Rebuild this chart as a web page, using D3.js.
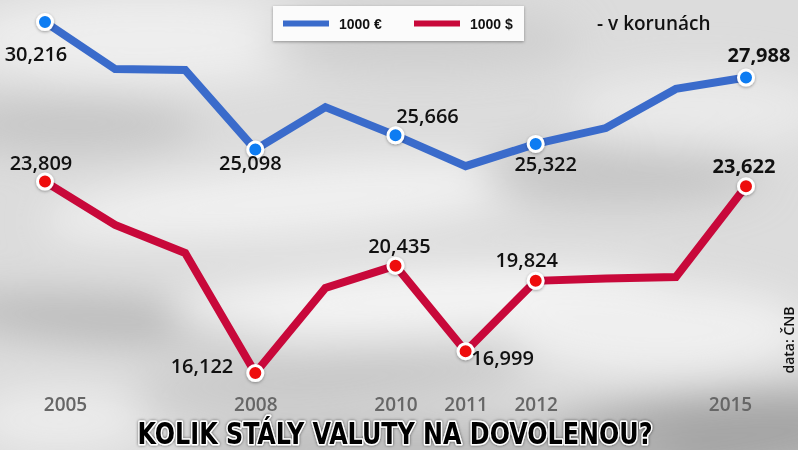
<!DOCTYPE html>
<html>
<head>
<meta charset="utf-8">
<script src="https://cdn.jsdelivr.net/npm/d3@7"></script>
<style>
  html, body { margin: 0; padding: 0; background: #ddd; }
  svg { display: block; }
</style>
</head>
<body>
<svg id="chart" width="798" height="450"></svg>
<script>
// ---- data ----
const years = [2005, 2006, 2007, 2008, 2009, 2010, 2011, 2012, 2013, 2014, 2015];
const eurValues = [30.216, 28.33, 28.29, 25.098, 26.80, 25.666, 24.43, 25.322, 25.96, 27.53, 27.988];
const usdValues = [23.809, 22.07, 20.94, 16.122, 19.54, 20.435, 16.999, 19.824, 19.92, 19.98, 23.622];
const eurMarkedYears = [2005, 2008, 2010, 2012, 2015];
const usdMarkedYears = [2005, 2008, 2010, 2011, 2012, 2015];
const tickYears = [2005, 2008, 2010, 2011, 2012, 2015];
const legendLabels = ["1000 €", "1000 $"];
const unitNote = "- v korunách";
const sourceNote = "data: ČNB";
const titleText = "KOLIK STÁLY VALUTY NA DOVOLENOU?";

// ---- layout / style (kept separate from data) ----
const W = 798, H = 450;
const colors = { eurLine: "#3a6bcb", eurDot: "#0b7bf2", usdLine: "#c8083a", usdDot: "#ee0d0d" };
// label offsets relative to each marked point: [dx, dy, anchor]
const labelLayout = {
  eur: { 2005: [-9, 39, "middle"], 2008: [-5, 21, "middle"], 2010: [32, -12, "middle"], 2012: [10, 27, "middle"], 2015: [13, -16, "middle"] },
  usd: { 2005: [-4, -12, "middle"], 2008: [-22, 0, "end"], 2010: [4, -13, "middle"], 2011: [37, 14, "middle"], 2012: [-9, -14, "middle"], 2015: [-2, -13, "middle"] }
};
const tickNudge = { 2005: 20, 2015: -16 };

const svg = d3.select("#chart");
const defs = svg.append("defs");

// background blur
defs.append("filter").attr("id", "blur").attr("x", "-50%").attr("y", "-50%").attr("width", "200%").attr("height", "200%")
  .append("feGaussianBlur").attr("stdDeviation", 20);
const sh = defs.append("filter").attr("id", "shadow").attr("x", "-50%").attr("y", "-50%").attr("width", "200%").attr("height", "200%");
sh.append("feDropShadow").attr("dx", 0).attr("dy", 1).attr("stdDeviation", 1.5).attr("flood-color", "#000").attr("flood-opacity", 0.35);
const tsh = defs.append("filter").attr("id", "tshadow").attr("x", "-10%").attr("y", "-50%").attr("width", "120%").attr("height", "200%");
tsh.append("feDropShadow").attr("dx", 0).attr("dy", 0).attr("stdDeviation", 1.5).attr("flood-color", "#000").attr("flood-opacity", 0.6);

const bg = svg.append("g");
bg.append("rect").attr("width", W).attr("height", H).attr("fill", "#dcdcdc");
const blobs = bg.append("g").attr("filter", "url(#blur)");
[
  [150, 40, 190, 45, "#eeeeee", 0],
  [420, 40, 160, 30, "#cecece", 0],
  [700, 110, 130, 40, "#e9e9e9", 0],
  [70, 125, 130, 28, "#c6c6c6", 0],
  [300, 200, 260, 35, "#f0f0f0", -5],
  [620, 175, 140, 28, "#c4c4c4", 0],
  [110, 320, 170, 22, "#b8b8b8", 4],
  [420, 300, 250, 30, "#f5f5f5", -3],
  [660, 330, 150, 45, "#efefef", 0],
  [330, 380, 200, 20, "#c2c2c2", -4],
  [700, 440, 220, 45, "#a5a5a5", -6],
  [60, 420, 90, 30, "#ececec", 0],
  [430, 450, 250, 25, "#b8b8b8", 0]
].forEach(([cx, cy, rx, ry, c, r]) => {
  blobs.append("ellipse").attr("cx", cx).attr("cy", cy).attr("rx", rx).attr("ry", ry)
    .attr("fill", c).attr("transform", `rotate(${r},${cx},${cy})`);
});

// ---- scales ----
const x = d3.scaleLinear().domain([2005, 2015]).range([45, 746]);
const y = d3.scaleLinear().domain([15, 31]).range([401, 2.5]);
const fmt = d3.formatLocale({ decimal: ",", thousands: " ", grouping: [3], currency: ["", ""] }).format(".3f");

// ---- axis ----
const axis = d3.axisBottom(x).tickValues(tickYears).tickSize(0).tickPadding(0).tickFormat(d3.format("d"));
const gx = svg.append("g").attr("transform", "translate(0,393)").call(axis);
gx.select(".domain").remove();
gx.selectAll("text")
  .attr("font-family", "'Open Sans', sans-serif").attr("font-size", 19).attr("font-weight", 600)
  .attr("fill", "#666").attr("dy", "0.95em")
  .attr("dx", d => tickNudge[d] || 0);

// ---- series ----
const series = [
  { key: "eur", values: eurValues, marked: eurMarkedYears, line: colors.eurLine, dot: colors.eurDot },
  { key: "usd", values: usdValues, marked: usdMarkedYears, line: colors.usdLine, dot: colors.usdDot }
];
const line = d3.line().x(d => x(d.year)).y(d => y(d.value));

series.forEach(s => {
  const pts = years.map((yr, i) => ({ year: yr, value: s.values[i] }));
  svg.append("path").datum(pts).attr("d", line)
    .attr("fill", "none").attr("stroke", s.line).attr("stroke-width", 8)
    .attr("stroke-linejoin", "miter").attr("stroke-miterlimit", 6);
  const marked = pts.filter(p => s.marked.includes(p.year));
  svg.append("g").selectAll("circle").data(marked).join("circle")
    .attr("cx", d => x(d.year)).attr("cy", d => y(d.value)).attr("r", 7.5)
    .attr("fill", s.dot).attr("stroke", "#fff").attr("stroke-width", 3)
    .attr("filter", "url(#shadow)");
  s.markedPts = marked;
});

series.forEach(s => {
  svg.append("g").selectAll("text").data(s.markedPts).join("text")
    .attr("x", d => x(d.year) + labelLayout[s.key][d.year][0])
    .attr("y", d => y(d.value) + labelLayout[s.key][d.year][1])
    .attr("text-anchor", d => labelLayout[s.key][d.year][2])
    .attr("font-family", "'Open Sans', sans-serif").attr("font-size", 20)
    .attr("font-weight", d => d.year === 2015 ? 700 : 600)
    .attr("fill", "#111")
    .text(d => fmt(d.value));
});

// ---- legend ----
const lg = svg.append("g");
lg.append("rect").attr("x", 273).attr("y", 6).attr("width", 251).attr("height", 35)
  .attr("fill", "#fbfbfb").attr("filter", "url(#shadow)");
const legendItems = [
  { label: legendLabels[0], color: colors.eurLine, x0: 283 },
  { label: legendLabels[1], color: colors.usdLine, x0: 414 }
];
legendItems.forEach(it => {
  lg.append("line").attr("x1", it.x0).attr("x2", it.x0 + 46).attr("y1", 23.5).attr("y2", 23.5)
    .attr("stroke", it.color).attr("stroke-width", 6);
  lg.append("text").attr("x", it.x0 + 56).attr("y", 28.5)
    .attr("font-family", "'Liberation Sans', Arial, sans-serif").attr("font-size", 14).attr("font-weight", "bold")
    .attr("fill", "#111").text(it.label);
});

svg.append("text").attr("x", 597).attr("y", 30)
  .attr("font-family", "'Open Sans', sans-serif").attr("font-size", 19).attr("font-weight", 600).attr("fill", "#111")
  .text(unitNote);

svg.append("text").attr("transform", "translate(794,340) rotate(-90)")
  .attr("text-anchor", "middle")
  .attr("font-family", "'Open Sans', sans-serif").attr("font-size", 14).attr("font-weight", 600).attr("fill", "#111")
  .text(sourceNote);

// ---- title ----
svg.append("text").attr("x", 395).attr("y", 444).attr("text-anchor", "middle")
  .attr("font-family", "'Liberation Sans Narrow', 'DejaVu Sans Condensed', sans-serif")
  .attr("font-weight", "bold").attr("font-size", 30)
  .attr("textLength", 515).attr("lengthAdjust", "spacingAndGlyphs")
  .attr("fill", "#000").attr("stroke", "#fff").attr("stroke-width", 3)
  .attr("paint-order", "stroke").attr("stroke-linejoin", "round")
  .attr("filter", "url(#tshadow)")
  .text(titleText);
</script>
</body>
</html>
